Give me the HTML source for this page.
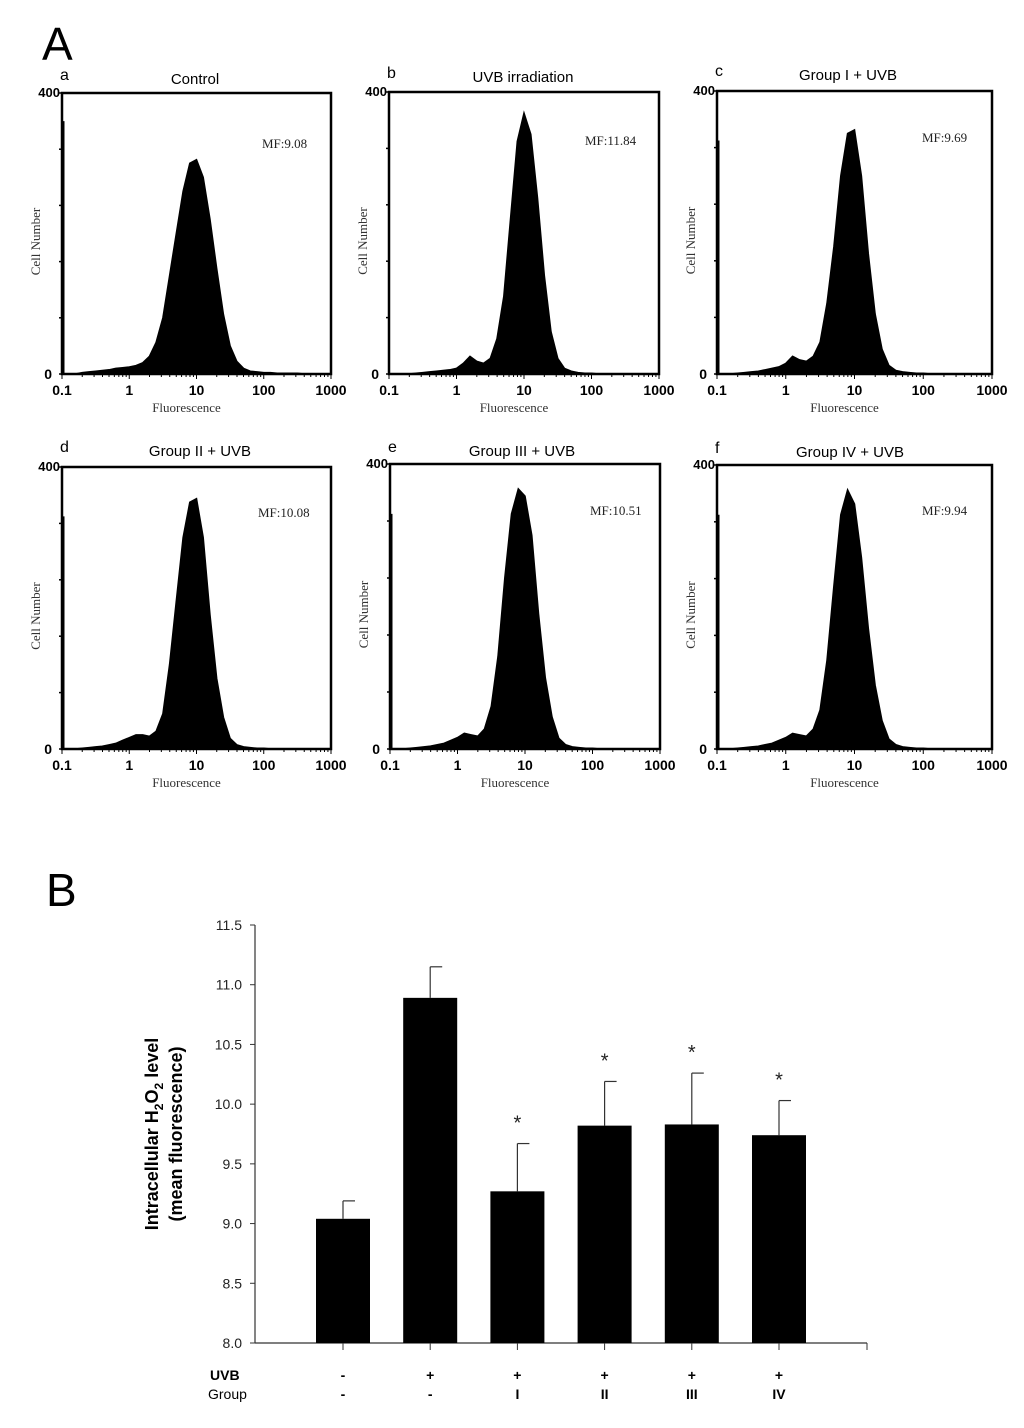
<!DOCTYPE html>
<html><head><meta charset="utf-8">
<style>
html,body{margin:0;padding:0;background:#fff;}
svg{display:block;}
</style></head>
<body>
<svg id="fig" width="1024" height="1428" viewBox="0 0 1024 1428" xmlns="http://www.w3.org/2000/svg">
<text x="42" y="60" font-family="Liberation Sans, sans-serif" font-size="46">A</text>
<text x="46" y="906" font-family="Liberation Sans, sans-serif" font-size="46">B</text>
<g id="hists"></g>
<g id="bars"></g>
</svg>
<script>
// ---- Histogram data (counts at log10 fluorescence bins -1.0 .. 3.0, step 0.1) ----
const histBinsLog = [-1.0,-0.9,-0.8,-0.7,-0.6,-0.5,-0.4,-0.3,-0.2,-0.1,0.0,0.1,0.2,0.3,0.4,0.5,0.6,0.7,0.8,0.9,1.0,1.1,1.2,1.3,1.4,1.5,1.6,1.7,1.8,1.9,2.0,2.1,2.2,2.3,2.4,2.5,2.6,2.7,2.8,2.9,3.0];
const histA = [0,0,0,2,3,4,5,6,8,9,10,12,16,25,45,80,140,200,260,300,305,280,220,150,85,40,18,8,4,3,2,2,1,1,1,1,0,0,0,0,0];
const histB = [0,0,0,0,1,2,3,4,5,6,8,15,25,18,15,22,50,110,220,330,370,340,250,140,60,22,8,4,2,1,1,0,0,0,0,0,0,0,0,0,0];
const histC = [0,0,0,1,2,3,4,6,8,10,15,25,20,18,25,45,100,180,280,340,345,280,170,85,35,12,5,3,2,1,1,0,0,0,0,0,0,0,0,0,0];
const histD = [0,0,0,1,2,3,4,6,8,12,16,20,20,18,25,50,120,210,300,350,355,300,190,100,45,15,6,3,2,1,1,0,0,0,0,0,0,0,0,0,0];
const histE = [0,0,0,1,2,3,4,6,8,12,16,22,20,18,28,60,130,240,330,365,355,300,190,100,45,15,6,3,2,1,1,0,0,0,0,0,0,0,0,0,0];
const histF = [0,0,0,1,2,3,4,6,8,12,16,22,20,18,28,55,125,230,330,365,345,270,170,90,40,14,6,3,2,1,1,0,0,0,0,0,0,0,0,0,0];
const histSpike = [360, 0, 330, 330, 330, 330];
const histTitles = ["Control","UVB irradiation","Group I + UVB","Group II + UVB","Group III + UVB","Group IV + UVB"];
const histLetters = ["a","b","c","d","e","f"];
const histMF = ["MF:9.08","MF:11.84","MF:9.69","MF:10.08","MF:10.51","MF:9.94"];
const xTickLabels = ["0.1","1","10","100","1000"];
const yTickLabels = ["0","400"];

// ---- Bar chart data ----
const barCats = ["c1","c2","c3","c4","c5","c6"];
const barValues = [9.04,10.89,9.27,9.82,9.83,9.74];
const barErrors = [0.15,0.26,0.40,0.37,0.43,0.29];
const barStars = [false,false,true,true,true,true];
const uvbLabels = ["-","+","+","+","+","+"];
const groupLabels = ["-","-","I","II","III","IV"];
const barYTicks = ["8.0","8.5","9.0","9.5","10.0","10.5","11.0","11.5"];

const NS = "http://www.w3.org/2000/svg";
function mk(tag, attrs, parent){const e=document.createElementNS(NS,tag);for(const k in attrs)e.setAttribute(k,attrs[k]);parent.appendChild(e);return e;}

const panels = [
 {x:62,y:93,w:269,h:281,data:histA,tx:195,ty:84,mx:262,my:148},
 {x:389,y:92,w:270,h:282,data:histB,tx:523,ty:82,mx:585,my:145},
 {x:717,y:91,w:275,h:283,data:histC,tx:848,ty:80,mx:922,my:142},
 {x:62,y:467,w:269,h:282,data:histD,tx:200,ty:456,mx:258,my:517},
 {x:390,y:464,w:270,h:285,data:histE,tx:522,ty:456,mx:590,my:515},
 {x:717,y:465,w:275,h:284,data:histF,tx:850,ty:457,mx:922,my:515}
];
const hg = document.getElementById('hists');
panels.forEach((p,i)=>{
  const g = mk('g',{},hg);
  
  
  const sx = v => p.x + (v+1)/4*p.w;
  const sy = c => p.y + p.h - c/400*p.h;
  let d = 'M'+sx(histBinsLog[0])+','+sy(0);
  p.data.forEach((c,j)=>{ d += ' L'+sx(histBinsLog[j]).toFixed(1)+','+sy(c).toFixed(1); });
  d += ' L'+sx(3)+','+sy(0)+' Z';
  const area = mk('path',{d:d,fill:'#000',stroke:'#000','stroke-width':1.5},g);
  
  
  if(histSpike[i]>0){
    const sp = mk('line',{x1:p.x+1.5,x2:p.x+1.5,y1:sy(0),y2:sy(histSpike[i]),stroke:'#000','stroke-width':2},g);
    
    
  }
  const fr = mk('rect',{x:p.x,y:p.y,width:p.w,height:p.h,fill:'none',stroke:'#000','stroke-width':2.5},g);
  
  
  for(let k=0;k<=5;k++){ const yy=p.y+p.h*k/5; mk('line',{x1:p.x-3,x2:p.x,y1:yy,y2:yy,stroke:'#000','stroke-width':1.5},g); }
  for(let dec=0;dec<4;dec++){ for(let m=1;m<10;m++){ const lv=dec-1+Math.log10(m); const xx=sx(lv); mk('line',{x1:xx,x2:xx,y1:p.y+p.h,y2:p.y+p.h+(m==1?5:3),stroke:'#000','stroke-width':1},g);} }
  mk('line',{x1:sx(3),x2:sx(3),y1:p.y+p.h,y2:p.y+p.h+5,stroke:'#000','stroke-width':1},g);
  xTickLabels.forEach((t,k)=>{
    const tl = mk('text',{x:sx(k-1),y:p.y+p.h+21,'text-anchor':'middle','font-family':'Liberation Sans, sans-serif','font-size':14,'font-weight':'bold'},g);
    tl.textContent=t;
    
    
  });
  const y0 = mk('text',{x:p.x-10,y:p.y+p.h+5,'text-anchor':'end','font-family':'Liberation Sans, sans-serif','font-size':14,'font-weight':'bold'},g);
  y0.textContent=yTickLabels[0];
  
  
  const y4 = mk('text',{x:p.x-2,y:p.y+4,'text-anchor':'end','font-family':'Liberation Sans, sans-serif','font-size':13,'font-weight':'bold'},g);
  y4.textContent=yTickLabels[1];
  
  
  const xl = mk('text',{x:p.x+p.w/2-10,y:p.y+p.h+38,'text-anchor':'middle','font-family':'Liberation Serif, serif','font-size':13,fill:'#333'},g);
  xl.textContent='Fluorescence';
  
  
  const cy = p.y+p.h/2+8;
  const yl = mk('text',{x:p.x-22,y:cy,'text-anchor':'middle','font-family':'Liberation Serif, serif','font-size':13,fill:'#333',transform:'rotate(-90 '+(p.x-22)+' '+cy+')'},g);
  yl.textContent='Cell Number';
  
  
  const tt = mk('text',{x:p.tx,y:p.ty,'text-anchor':'middle','font-family':'Liberation Sans, sans-serif','font-size':15},g);
  tt.textContent=histTitles[i];
  
  
  const lt = mk('text',{x:p.x-2,y:p.ty-4,'font-family':'Liberation Sans, sans-serif','font-size':16},g);
  lt.textContent=histLetters[i];
  
  
  const mf = mk('text',{x:p.mx,y:p.my,'font-family':'Liberation Serif, serif','font-size':13,fill:'#222'},g);
  mf.textContent=histMF[i];
  
  
});

// ---- Bar chart ----
const bg = document.getElementById('bars');
const AX = 255, AXR = 867, Y0 = 1343, YTOP = 925, VMIN = 8.0, VMAX = 11.5;
const by = v => Y0 - (v-VMIN)/(VMAX-VMIN)*(Y0-YTOP);
const bx = i => 343 + i*87.2;
const BW = 54;
const yax = mk('line',{x1:AX,x2:AX,y1:YTOP,y2:Y0,stroke:'#333','stroke-width':1.2},bg);


const xax = mk('line',{x1:AX,x2:AXR,y1:Y0,y2:Y0,stroke:'#333','stroke-width':1.2},bg);


barYTicks.forEach(t=>{
  const v=parseFloat(t), yy=by(v);
  mk('line',{x1:AX-5,x2:AX,y1:yy,y2:yy,stroke:'#333','stroke-width':1},bg);
  const tl = mk('text',{x:AX-13,y:yy+5,'text-anchor':'end','font-family':'Liberation Sans, sans-serif','font-size':14,fill:'#222'},bg);
  tl.textContent=t;
  
  
});
mk('line',{x1:AXR,x2:AXR,y1:Y0,y2:Y0+7,stroke:'#333','stroke-width':1},bg);
barCats.forEach((c,i)=>{
  const cx=bx(i);
  mk('line',{x1:cx,x2:cx,y1:Y0,y2:Y0+7,stroke:'#333','stroke-width':1},bg);
  const top = barValues[i]+barErrors[i];
  const eb = mk('line',{x1:cx,x2:cx,y1:by(barValues[i]),y2:by(top),stroke:'#333','stroke-width':1.2},bg);
  
  
  mk('line',{x1:cx,x2:cx+12,y1:by(top),y2:by(top),stroke:'#333','stroke-width':1.2},bg);
  const r = mk('rect',{x:cx-BW/2,y:by(barValues[i]),width:BW,height:Y0-by(barValues[i]),fill:'#000'},bg);
  
  
  if(barStars[i]){
    const s = mk('text',{x:cx,y:by(top)-14,'text-anchor':'middle','font-family':'Liberation Sans, sans-serif','font-size':20,fill:'#222'},bg);
    s.textContent='*';
    
    
  }
  const u = mk('text',{x:cx,y:1380,'text-anchor':'middle','font-family':'Liberation Sans, sans-serif','font-size':14,'font-weight':'bold'},bg);
  u.textContent=uvbLabels[i];
  
  
  const gl = mk('text',{x:cx,y:1399,'text-anchor':'middle','font-family':'Liberation Sans, sans-serif','font-size':14,'font-weight':'bold'},bg);
  gl.textContent=groupLabels[i];
  
  
});
const ur = mk('text',{x:210,y:1380,'font-family':'Liberation Sans, sans-serif','font-size':14,'font-weight':'bold'},bg);
ur.textContent='UVB';


const gr = mk('text',{x:208,y:1399,'font-family':'Liberation Sans, sans-serif','font-size':14},bg);
gr.textContent='Group';


</script>
<script>
(function(){
  const svg=document.getElementById('fig');
  const NS="http://www.w3.org/2000/svg";
  const t1=document.createElementNS(NS,'text');
  t1.setAttribute('x','158');t1.setAttribute('y','1134');
  t1.setAttribute('text-anchor','middle');
  t1.setAttribute('font-family','Liberation Sans, sans-serif');
  t1.setAttribute('font-size','18');t1.setAttribute('font-weight','bold');
  t1.setAttribute('transform','rotate(-90 158 1134)');
  t1.innerHTML='Intracellular H<tspan font-size="12" dy="5">2</tspan><tspan dy="-5">O</tspan><tspan font-size="12" dy="5">2</tspan><tspan dy="-5"> level</tspan>';
  
  
  svg.appendChild(t1);
  const t2=document.createElementNS(NS,'text');
  t2.setAttribute('x','182');t2.setAttribute('y','1134');
  t2.setAttribute('text-anchor','middle');
  t2.setAttribute('font-family','Liberation Sans, sans-serif');
  t2.setAttribute('font-size','18');t2.setAttribute('font-weight','bold');
  t2.setAttribute('transform','rotate(-90 182 1134)');
  t2.textContent='(mean fluorescence)';
  
  
  svg.appendChild(t2);
})();
</script>
</body></html>
